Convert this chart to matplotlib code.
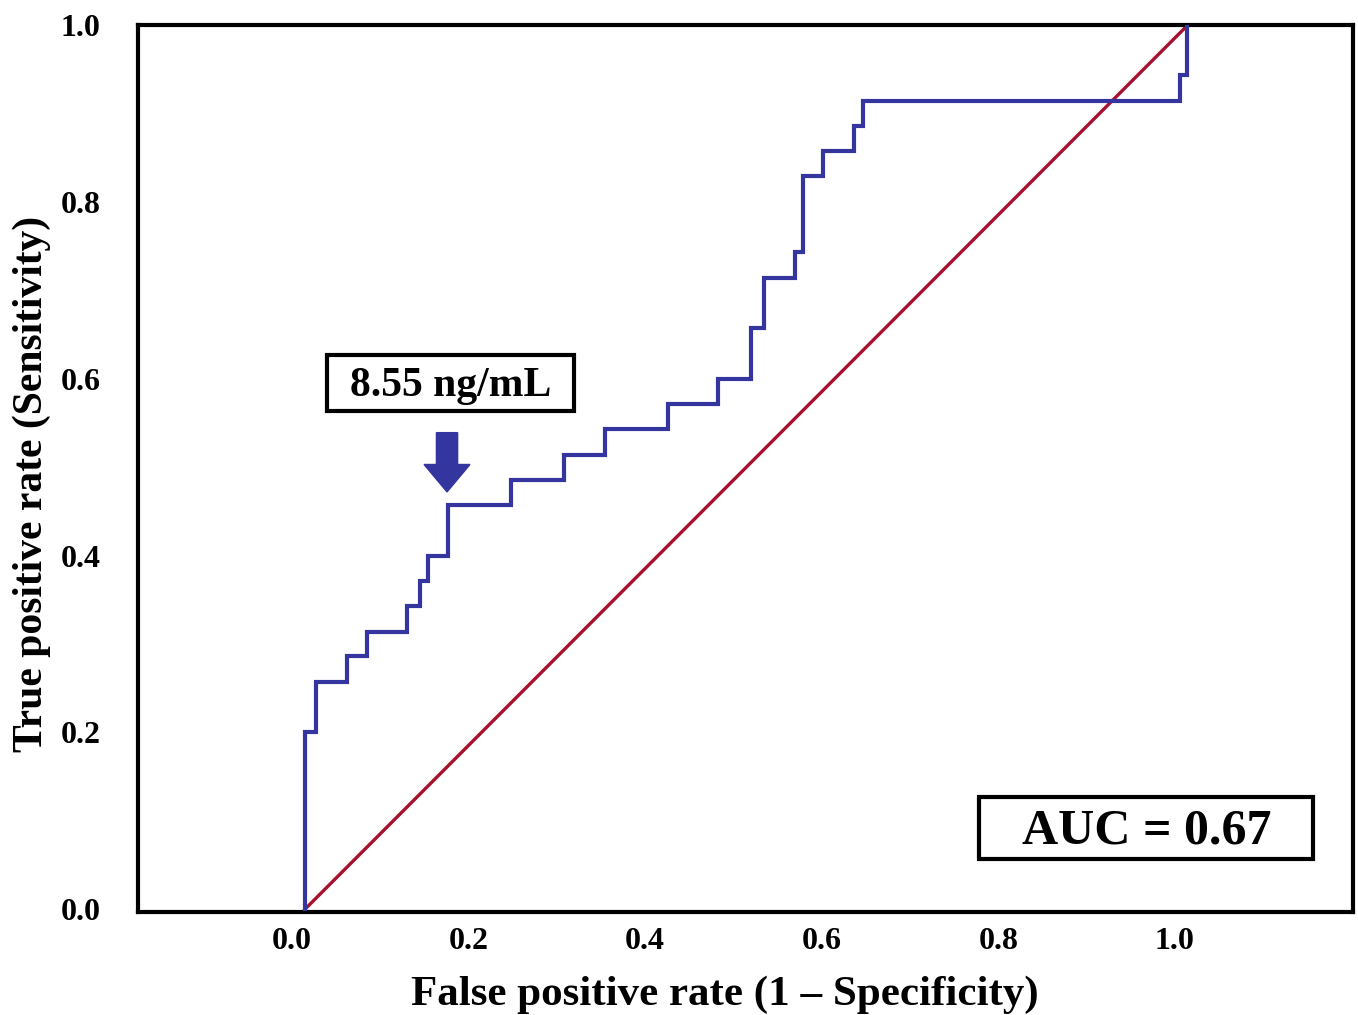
import numpy as np
import matplotlib.pyplot as plt
from matplotlib.patches import FancyArrow, Rectangle
from matplotlib.transforms import ScaledTranslation

plt.rcParams['font.family'] = ['Liberation Serif', 'DejaVu Serif']
plt.rcParams['font.weight'] = 'bold'

# ROC step curve
fpr = [0.0, 0.0, 0.0125, 0.0125, 0.048, 0.048, 0.070, 0.070, 0.116, 0.116,
       0.130, 0.130, 0.139, 0.139, 0.162, 0.162, 0.233, 0.233, 0.294, 0.294,
       0.340, 0.340, 0.411, 0.411, 0.468, 0.468, 0.505, 0.505, 0.520, 0.520,
       0.555, 0.555, 0.564, 0.564, 0.587, 0.587, 0.622, 0.622, 0.632, 0.632,
       0.991, 0.991, 0.999, 0.999]
tpr = [0.0, 0.200, 0.200, 0.257, 0.257, 0.286, 0.286, 0.314, 0.314, 0.343,
       0.343, 0.371, 0.371, 0.400, 0.400, 0.457, 0.457, 0.486, 0.486, 0.514,
       0.514, 0.543, 0.543, 0.571, 0.571, 0.600, 0.600, 0.657, 0.657, 0.714,
       0.714, 0.743, 0.743, 0.829, 0.829, 0.857, 0.857, 0.886, 0.886, 0.914,
       0.914, 0.943, 0.943, 1.0]

ref_x = [0.0, 1.0]
ref_y = [0.0, 1.0]

ticks = [0.0, 0.2, 0.4, 0.6, 0.8, 1.0]
tick_labels = ['0.0', '0.2', '0.4', '0.6', '0.8', '1.0']

cutoff_label = '8.55 ng/mL'
cutoff_x, cutoff_y = 0.161, 0.472   # arrow tip
auc_label = 'AUC = 0.67'

blue = '#34359f'
red = '#a8102e'

fig = plt.figure(figsize=(13.58, 10.15), dpi=100)
ax = fig.add_axes([0.1016, 0.1015, 0.8947, 0.8739])

ax.plot(ref_x, ref_y, color=red, linewidth=2.4, zorder=2)
ax.plot(fpr, tpr, color=blue, linewidth=3.0, zorder=3, solid_joinstyle='miter')

ax.add_patch(FancyArrow(cutoff_x, cutoff_y + 0.067, 0, -0.067, width=0.024,
                        head_width=0.052, head_length=0.031,
                        length_includes_head=True, color=blue, zorder=4))

# label boxes
ax.add_patch(Rectangle((0.025, 0.564), 0.280, 0.063, facecolor='white',
                       edgecolor='black', linewidth=3, zorder=5))
ax.text(0.165, 0.592, cutoff_label, fontsize=30, fontweight='bold',
        ha='center', va='center', zorder=6)
ax.add_patch(Rectangle((0.764, 0.0565), 0.378, 0.071, facecolor='white',
                       edgecolor='black', linewidth=3, zorder=5))
ax.text(0.953, 0.088, auc_label, fontsize=36, fontweight='bold',
        ha='center', va='center', zorder=6)

ax.set_xlim(-0.189, 1.187)
ax.set_ylim(-0.003, 1.0)
ax.set_xticks(ticks)
ax.set_xticklabels(tick_labels)
ax.set_yticks(ticks)
ax.set_yticklabels(tick_labels)
ax.tick_params(axis='both', length=0, labelsize=23)
ax.tick_params(axis='x', pad=11)
ax.tick_params(axis='y', pad=27)
for lab in ax.get_xticklabels():
    lab.set_transform(lab.get_transform() + ScaledTranslation(-0.13, 0, fig.dpi_scale_trans))

for s in ax.spines.values():
    s.set_linewidth(3)

ax.set_xlabel('False positive rate (1 \u2013 Specificity)', fontsize=31,
              fontweight='bold', labelpad=14)
ax.set_ylabel('True positive rate (Sensitivity)', fontsize=30,
              fontweight='bold', labelpad=7)
xl = ax.xaxis.label
xl.set_transform(xl.get_transform() + ScaledTranslation(-0.21, 0, fig.dpi_scale_trans))
yl = ax.yaxis.label
yl.set_transform(yl.get_transform() + ScaledTranslation(0, -0.15, fig.dpi_scale_trans))

fig.savefig('out.png', dpi=100)
